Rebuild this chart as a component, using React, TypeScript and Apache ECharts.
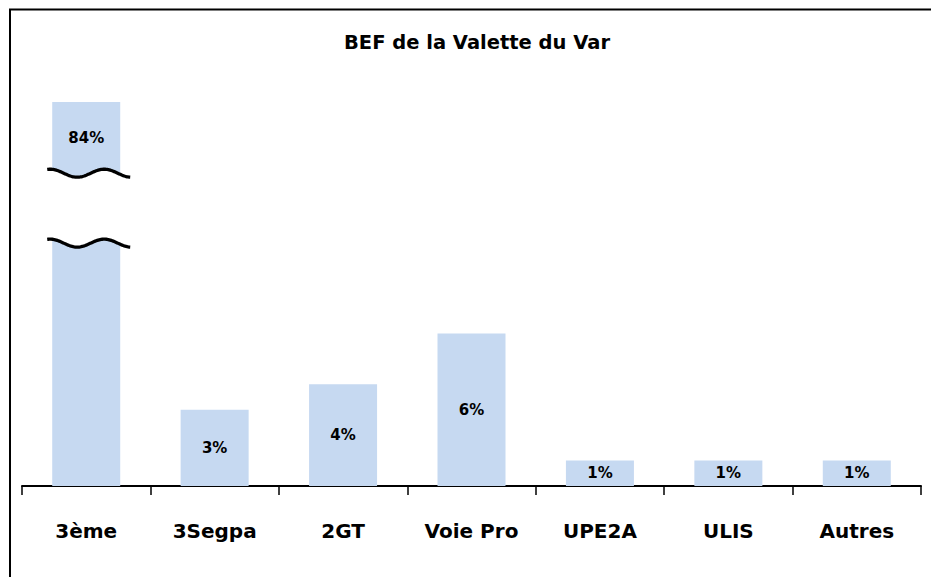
import { useEffect, useRef } from 'react';
import * as echarts from 'echarts';

const chartTitle = 'BEF de la Valette du Var';
const categories = ['3ème', '3Segpa', '2GT', 'Voie Pro', 'UPE2A', 'ULIS', 'Autres'];
const values = [84, 3, 4, 6, 1, 1, 1];
const axisMax = 84;
const breakStart = 9.55;
const breakEnd = 81.2;
const breakGap = 2.75;

const FONT = '"DejaVu Sans", sans-serif';

export default function App() {
  const ref = useRef<HTMLDivElement>(null);
  useEffect(() => {
    if (!ref.current) return;
    const chart = echarts.init(ref.current, null, { renderer: 'svg' });
    chart.setOption({
      animation: false,
      backgroundColor: '#fff',
      title: {
        text: chartTitle,
        left: 472,
        textAlign: 'center',
        top: 27,
        textStyle: { fontFamily: FONT, fontWeight: 'bold', fontSize: 19.5, color: '#000' },
      },
      grid: { left: 22, right: 10, top: 102, bottom: 91, containLabel: false },
      xAxis: {
        type: 'category',
        data: categories,
        axisLine: { show: true, lineStyle: { color: '#000', width: 2 } },
        axisTick: { show: true, length: 9, lineStyle: { color: '#000', width: 1.5 } },
        axisLabel: {
          margin: 35,
          color: '#000',
          fontFamily: FONT,
          fontWeight: 'bold',
          fontSize: 20,
        },
      },
      yAxis: {
        type: 'value',
        min: 0,
        max: axisMax,
        breaks: [{ start: breakStart, end: breakEnd, gap: breakGap }],
        breakArea: { show: false },
        axisLine: { show: false },
        axisTick: { show: false },
        axisLabel: { show: false },
        splitLine: { show: false },
      },
      series: [
        {
          type: 'bar',
          barWidth: 68,
          itemStyle: { color: '#C6D9F1' },
          label: {
            show: true,
            position: 'inside',
            formatter: '{c}%',
            color: '#000',
            fontFamily: FONT,
            fontWeight: 'bold',
            fontSize: 15,
          },
          data: values.map((v, i) =>
            i === 0 ? { value: v, label: { position: 'insideTop', distance: 28 } } : v
          ),
        },
      ],
    });

    const cx = chart.convertToPixel({ xAxisIndex: 0 }, categories[0]) as number;
    const yTop = chart.convertToPixel({ yAxisIndex: 0 }, breakEnd) as number;
    const yBot = chart.convertToPixel({ yAxisIndex: 0 }, breakStart) as number;
    const amp = 4;
    const period = 54;
    const wave = (y0: number) => {
      const pts: number[][] = [];
      for (let dx = -39; dx <= 44; dx += 1) {
        pts.push([cx + dx, y0 - amp * Math.cos((2 * Math.PI * (dx + 36)) / period)]);
      }
      return pts;
    };
    const topPts = wave(yTop);
    const botPts = wave(yBot);
    chart.setOption({
      graphic: [
        {
          type: 'rect',
          shape: { x: 10, y: 9.5, width: 960, height: 620 },
          style: { fill: 'none', stroke: '#000', lineWidth: 2 },
          z: 100,
          silent: true,
        },
        {
          type: 'polygon',
          shape: { points: topPts.concat(botPts.slice().reverse()) },
          style: { fill: '#fff', stroke: 'none' },
          z: 100,
          silent: true,
        },
        {
          type: 'polyline',
          shape: { points: topPts },
          style: { stroke: '#000', lineWidth: 3.3, fill: 'none' },
          z: 101,
          silent: true,
        },
        {
          type: 'polyline',
          shape: { points: botPts },
          style: { stroke: '#000', lineWidth: 3.3, fill: 'none' },
          z: 101,
          silent: true,
        },
      ],
    });
    return () => chart.dispose();
  }, []);
  return (
    <div
      ref={ref}
      style={{ position: 'fixed', left: 0, top: 0, width: 931, height: 577 }}
    />
  );
}
